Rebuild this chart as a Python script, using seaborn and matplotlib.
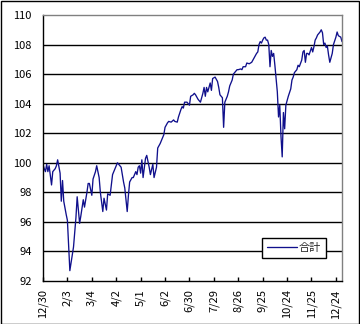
import matplotlib
matplotlib.use("Agg")
import matplotlib.pyplot as plt
import matplotlib.patches as mpatches
import seaborn as sns
import pandas as pd

# Trading-day index (0 = 12/30) and the index level on that day
day_index = [
    0, 1, 2, 3, 4, 5, 7, 8, 10, 11,
    12, 14, 15, 16, 17, 19, 20, 22, 25, 27,
    28, 30, 31, 33, 34, 36, 37, 38, 40, 41,
    43, 44, 46, 47, 49, 50, 52, 53, 55, 57,
    59, 61, 64, 66, 67, 69, 70, 71, 73, 74,
    76, 77, 78, 79, 80, 81, 82, 84, 85, 87,
    88, 90, 91, 93, 94, 96, 98, 99, 100, 102,
    103, 105, 107, 108, 110, 111, 113, 114, 115, 116,
    118, 120, 121, 123, 124, 125, 127, 129, 131, 132,
    133, 134, 135, 137, 138, 139, 141, 143, 144, 145,
    147, 148, 149, 151, 152, 153, 155, 156, 157, 159,
    160, 162, 163, 164, 166, 167, 169, 171, 172, 173,
    175, 176, 177, 178, 179, 180, 181, 182, 183, 184,
    185, 186, 187, 188, 189, 190, 191, 192, 193, 194,
    195, 196, 197, 198, 199, 200, 201, 203, 204, 205,
    206, 208, 209, 210, 212, 213, 214, 215, 216, 217,
    218, 220, 221, 222, 223, 224, 225, 227, 228, 229,
    230, 231, 232, 233, 234, 235, 237, 238, 240, 241,
    242, 244, 245,
]
total = [
    99.9, 99.6, 99.4, 99.9, 99.4, 99.8, 98.5, 99.4, 99.6, 99.8,
    100.2, 99.3, 97.4, 98.8, 97.4, 96.5, 96.1, 92.7, 94.3, 96.3,
    97.7, 95.9, 96.4, 97.5, 97.0, 98.0, 98.6, 98.6, 97.8, 98.9,
    99.4, 99.8, 99.0, 98.0, 96.7, 97.6, 96.8, 97.9, 97.8, 99.2,
    99.6, 100.0, 99.7, 98.7, 98.3, 96.7, 97.8, 98.7, 99.0, 99.0,
    99.4, 99.2, 99.7, 99.8, 99.3, 100.2, 99.0, 100.3, 100.5, 99.7,
    99.2, 99.9, 99.0, 99.7, 101.0, 101.3, 101.7, 101.9, 102.4, 102.7,
    102.8, 102.75, 102.9, 102.8, 102.75, 103.1, 103.6, 103.8, 103.7, 104.1,
    104.1, 103.9, 104.5, 104.6, 104.7, 104.6, 104.3, 104.1, 104.7, 105.1,
    104.5, 105.1, 104.8, 105.4, 104.9, 105.7, 105.8, 105.5, 105.1, 104.6,
    104.4, 102.4, 104.1, 104.5, 104.8, 105.2, 105.6, 106.0, 106.1, 106.3,
    106.3, 106.35, 106.3, 106.5, 106.5, 106.75, 106.7, 106.8, 106.95, 107.1,
    107.4, 107.5, 108.0, 108.2, 108.1, 108.3, 108.45, 108.5, 108.3, 108.3,
    108.0, 106.5, 107.6, 107.2, 107.4, 106.6, 105.7, 104.8, 103.1, 103.9,
    101.8, 100.4, 103.4, 102.3, 103.9, 104.2, 104.5, 105.0, 105.6, 105.8,
    106.1, 106.3, 106.6, 106.5, 106.95, 107.5, 107.6, 106.8, 107.4, 107.4,
    107.3, 107.8, 107.5, 107.85, 108.3, 108.45, 108.65, 108.85, 109.0, 108.8,
    108.0, 108.1, 107.8, 107.9, 107.3, 106.8, 107.4, 108.0, 108.5, 108.85,
    108.6, 108.5, 108.2,
]

tick_days = [0, 20, 40, 60, 80, 100, 120, 140, 160, 180, 200, 220, 240]
tick_labels = ["12/30", "2/3", "3/4", "4/2", "5/1", "6/2", "6/30",
               "7/29", "8/26", "9/25", "10/24", "11/25", "12/24"]
y_ticks = [92, 94, 96, 98, 100, 102, 104, 106, 108, 110]

sns.set_theme(style="white")
plt.rcParams["font.family"] = ["Noto Sans CJK JP", "DejaVu Sans"]

fig = plt.figure(figsize=(3.6, 3.24), dpi=100)
ax = fig.add_axes([43 / 360, 1 - 281 / 324, 299 / 360, 266 / 324])

df = pd.DataFrame({"day": day_index, "合計": total})
sns.lineplot(data=df, x="day", y="合計", ax=ax, color="#10108c",
             linewidth=0.95, label="合計")

ax.set_xlim(0, 245)
ax.set_ylim(92, 110)
ax.set_yticks(y_ticks)
ax.set_yticklabels([str(v) for v in y_ticks], fontsize=8)
ax.set_xticks(tick_days)
ax.set_xticklabels(tick_labels, rotation=90, fontsize=8)
ax.set_xlabel("")
ax.set_ylabel("")

for v in y_ticks[1:-1]:
    ax.axhline(v, color="black", linewidth=1.0, zorder=0)

ax.tick_params(axis="y", length=0, pad=8, colors="black")
ax.tick_params(axis="x", direction="in", length=3, width=1, pad=6,
               colors="black", bottom=True)

ax.spines["left"].set_color("black")
ax.spines["bottom"].set_color("black")
ax.spines["top"].set_color("#808080")
ax.spines["right"].set_color("#808080")
for s in ax.spines.values():
    s.set_linewidth(1.0)

leg = ax.legend(loc="lower left", bbox_to_anchor=(0.732, 0.086),
                fontsize=8, frameon=True, fancybox=False, shadow=False,
                handlelength=2.7, handletextpad=0.2, borderpad=0.45,
                borderaxespad=0)
leg.get_frame().set_edgecolor("black")
leg.get_frame().set_linewidth(1.0)
leg.get_frame().set_facecolor("white")
leg.get_frame().set_alpha(1)

fig.patches.append(mpatches.Rectangle((0.5 / 360, 0.5 / 324), 358.5 / 360, 322.5 / 324,
                                      transform=fig.transFigure, fill=False,
                                      edgecolor="black", linewidth=1.0))

fig.savefig("out.png", dpi=100)
